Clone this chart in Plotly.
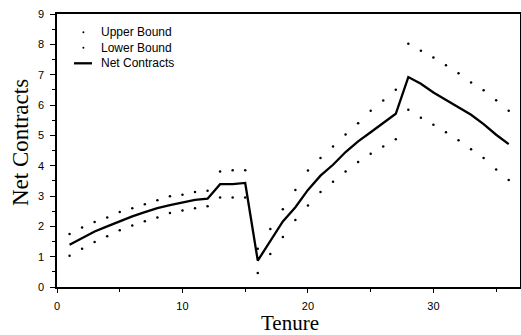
import plotly.graph_objects as go

tenure = list(range(1, 37))
net_contracts = [1.39, 1.6, 1.83, 2.0, 2.17, 2.33, 2.47, 2.6, 2.7, 2.78, 2.87, 2.91,
                 3.39, 3.39, 3.43, 0.87, 1.5, 2.16, 2.63, 3.2, 3.67, 4.03, 4.45, 4.8,
                 5.1, 5.4, 5.71, 6.92, 6.7, 6.41, 6.17, 5.93, 5.68, 5.37, 5.02, 4.71]
upper_bound = [1.75, 1.96, 2.14, 2.29, 2.47, 2.6, 2.73, 2.86, 2.99, 3.04, 3.13, 3.17,
               3.81, 3.85, 3.85, 1.26, 1.91, 2.56, 3.2, 3.84, 4.25, 4.63, 5.03, 5.4,
               5.81, 6.15, 6.5, 8.02, 7.79, 7.57, 7.31, 7.05, 6.74, 6.49, 6.16, 5.81]
lower_bound = [1.03, 1.26, 1.48, 1.67, 1.87, 2.03, 2.17, 2.29, 2.44, 2.52, 2.6, 2.66,
               2.95, 2.95, 2.95, 0.46, 1.09, 1.65, 2.21, 2.69, 3.13, 3.47, 3.81, 4.12,
               4.39, 4.63, 4.87, 5.84, 5.58, 5.35, 5.1, 4.84, 4.54, 4.25, 3.87, 3.53]
legend_labels = ["Upper Bound", "Lower Bound", "Net Contracts"]

W, H = 521, 335
ML, MR, MT, MB = 57, 1, 14, 48
PW, PH = W - ML - MR, H - MT - MB

def px_x(p):
    return (p - ML) / PW

def px_y(p):
    return (H - MB - p) / PH

fig = go.Figure()
fig.add_trace(go.Scatter(x=tenure, y=upper_bound, mode="markers", name=legend_labels[0],
                         marker=dict(color="black", size=2.5), showlegend=False))
fig.add_trace(go.Scatter(x=tenure, y=lower_bound, mode="markers", name=legend_labels[1],
                         marker=dict(color="black", size=2.5), showlegend=False))
fig.add_trace(go.Scatter(x=tenure, y=net_contracts, mode="lines", name=legend_labels[2],
                         line=dict(color="black", width=2.3), showlegend=False))

# manual legend
leg_font = dict(family="Liberation Sans, Arial", size=12, color="black")
rows_y = [32.3, 47.7, 63.3]
shapes = []
annotations = []
for i, (lab, yy) in enumerate(zip(legend_labels, rows_y)):
    annotations.append(dict(x=px_x(99), y=px_y(yy), xref="paper", yref="paper",
                            text=lab, showarrow=False, xanchor="left", yanchor="middle",
                            font=leg_font))
    if i < 2:
        shapes.append(dict(type="circle", xref="paper", yref="paper",
                           x0=px_x(82.4), x1=px_x(84.4), y0=px_y(yy - 1), y1=px_y(yy + 1),
                           fillcolor="black", line=dict(width=0)))
    else:
        shapes.append(dict(type="line", xref="paper", yref="paper",
                           x0=px_x(74), x1=px_x(92), y0=px_y(yy), y1=px_y(yy),
                           line=dict(color="black", width=2.3)))

title_font = dict(family="Liberation Serif, Times New Roman", size=21, color="black")
annotations.append(dict(x=px_x(290), y=px_y(323), xref="paper", yref="paper",
                        text="Tenure", showarrow=False, xanchor="center", yanchor="middle",
                        font=title_font))
annotations.append(dict(x=px_x(20), y=px_y(143), xref="paper", yref="paper",
                        text="Net Contracts", showarrow=False, xanchor="center", yanchor="middle",
                        textangle=-90, font=dict(title_font, size=23)))

axis_font = dict(family="Liberation Sans, Arial", size=11, color="black")
fig.update_layout(
    width=W, height=H,
    margin=dict(l=ML, r=MR, t=MT, b=MB, autoexpand=False),
    paper_bgcolor="white", plot_bgcolor="white",
    showlegend=False,
    shapes=shapes,
    annotations=annotations,
    xaxis=dict(range=[0, 36.9], dtick=10, tick0=0, showgrid=False, zeroline=False,
               showline=True, linecolor="black", linewidth=1.5, mirror=True,
               ticks="outside", ticklen=4, tickcolor="black", tickfont=axis_font,
               ticklabelstandoff=4,
               minor=dict(dtick=5, ticks="outside", ticklen=3, tickcolor="black"),
               automargin=False),
    yaxis=dict(range=[0, 9], dtick=1, tick0=0, showgrid=False, zeroline=False,
               showline=True, linecolor="black", linewidth=1.5, mirror=True,
               ticks="outside", ticklen=5, tickcolor="black", tickfont=axis_font,
               ticklabelstandoff=4,
               minor=dict(dtick=0.5, ticks="outside", ticklen=3, tickcolor="black"),
               automargin=False),
)

fig.write_html("out.html", config={"displayModeBar": False},
               post_script="document.body.style.margin='0';document.body.style.overflow='hidden';")
